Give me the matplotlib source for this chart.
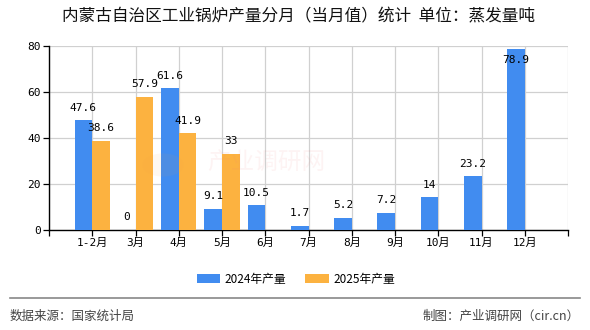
import matplotlib
matplotlib.use("Agg")
import matplotlib.pyplot as plt
from matplotlib.patches import Circle
import numpy as np

plt.rcParams['font.family'] = ['Noto Sans CJK SC', 'DejaVu Sans']

title = "内蒙古自治区工业锅炉产量分月（当月值）统计  单位：蒸发量吨"
months = ["1-2月", "3月", "4月", "5月", "6月", "7月", "8月", "9月", "10月", "11月", "12月"]
series_2024 = [47.6, 0, 61.6, 9.1, 10.5, 1.7, 5.2, 7.2, 14, 23.2, 78.9]
series_2025 = [38.6, 57.9, 41.9, 33]
labels = ["2024年产量", "2025年产量"]
colors = ["#418cf0", "#fcb240"]
y_ticks = [0, 20, 40, 60, 80]

fig = plt.figure(figsize=(5.9, 3.3), dpi=100)
ax = fig.add_axes([49 / 590, 1 - 229.5 / 330, (568 - 49) / 590, (229.5 - 46) / 330])

x = np.arange(len(months))
w = 0.41
b1 = ax.bar(x[:len(series_2024)] - w / 2, series_2024, width=w, color=colors[0], label=labels[0], zorder=3)
b2 = ax.bar(x[:len(series_2025)] + w / 2, series_2025, width=w, color=colors[1], label=labels[1], zorder=3)

ax.set_xlim(-1, len(months))
ax.set_ylim(0, 80)

num_font = ['DejaVu Sans Mono', 'Noto Sans CJK SC']
for bars, vals in ((b1, series_2024), (b2, series_2025)):
    for rect, v in zip(bars, vals):
        cx = rect.get_x() + rect.get_width() / 2
        txt = f"{v:g}"
        # labels that would run past the top of the axis go inside the bar
        dy = -8 if v > 74 else 9
        ax.annotate(txt, (cx, v), xytext=(0, dy), textcoords="offset points",
                    ha="center", va="center", fontsize=8, family=num_font, zorder=4)

# grid at every band position
ax.set_xticks(np.arange(-1, len(months) + 1))
ax.set_xticklabels([""] + months + [""], fontsize=8, family=num_font)
ax.set_yticks(y_ticks)
ax.set_yticklabels([str(t) for t in y_ticks], fontsize=8, family=num_font)
ax.grid(True, color="#d0d0d0", linewidth=0.9, zorder=0)
ax.tick_params(axis="both", length=4, width=0.9, color="black", pad=2)
for s in ("top", "right"):
    ax.spines[s].set_visible(False)
for s in ("left", "bottom"):
    ax.spines[s].set_color("black")
    ax.spines[s].set_linewidth(1)

# faint site watermark
fig.add_artist(Circle((163 / 590, 1 - 165 / 330), 0.035, transform=fig.transFigure,
                      facecolor="#f5a040", edgecolor="none", alpha=0.07, zorder=1))
fig.text(266 / 590, 1 - 162 / 330, "产业调研网", fontsize=17, color="#f08080", alpha=0.09,
         ha="center", va="center")

fig.text(298 / 590, 1 - 17 / 330, title, ha="center", va="center", fontsize=12, color="#111111")

leg = fig.legend(handles=[b1, b2], labels=labels, loc="center", bbox_to_anchor=(296 / 590, 1 - 279 / 330),
                 ncol=2, frameon=False, fontsize=8.5, handlelength=2.0, handleheight=0.8,
                 columnspacing=1.6, handletextpad=0.4)

fig.add_artist(plt.Line2D([10 / 590, 580 / 590], [1 - 298 / 330, 1 - 298 / 330],
                          color="#888888", linewidth=1.2, transform=fig.transFigure))
fig.text(10 / 590, 1 - 316 / 330, "数据来源：国家统计局", ha="left", va="center", fontsize=9, color="#444444")
fig.text(580 / 590, 1 - 316 / 330, "制图：产业调研网（cir.cn）", ha="right", va="center", fontsize=9, color="#444444")

fig.savefig("out.png", dpi=100, facecolor="white")
